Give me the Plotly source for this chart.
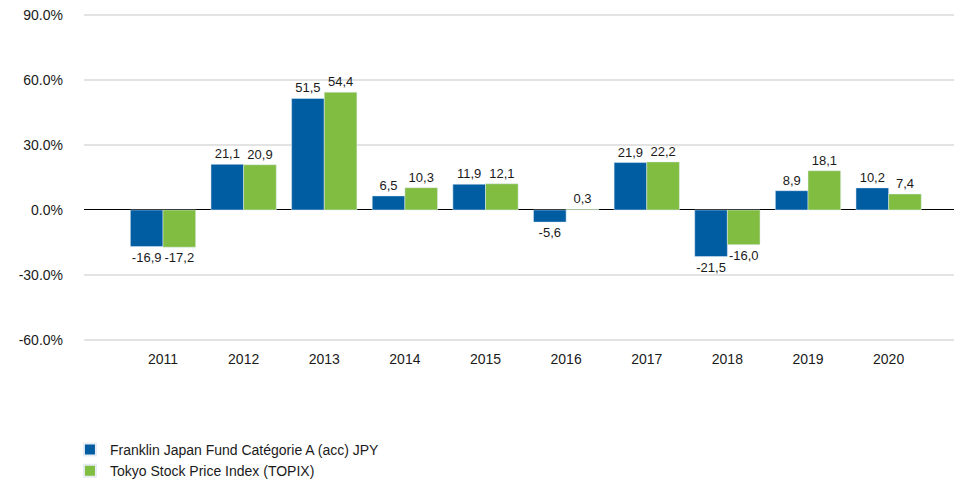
import plotly.graph_objects as go

years = ["2011", "2012", "2013", "2014", "2015", "2016", "2017", "2018", "2019", "2020"]
fund = [-16.9, 21.1, 51.5, 6.5, 11.9, -5.6, 21.9, -21.5, 8.9, 10.2]
topix = [-17.2, 20.9, 54.4, 10.3, 12.1, 0.3, 22.2, -16.0, 18.1, 7.4]
fund_name = "Franklin Japan Fund Catégorie A (acc) JPY"
topix_name = "Tokyo Stock Price Index (TOPIX)"
y_ticks = [-60, -30, 0, 30, 60, 90]
y_tick_labels = ["-60.0%", "-30.0%", "0.0%", "30.0%", "60.0%", "90.0%"]

def fmt(vals):
    return [f"{v:.1f}".replace(".", ",") for v in vals]

FONT = "Liberation Sans, Arial, sans-serif"
TXT = "#1a1a1a"

fig = go.Figure()
fig.add_trace(go.Bar(x=years, y=fund, name=fund_name, marker_color="#005DA2",
                     text=fmt(fund), textposition="outside", cliponaxis=False,
                     textfont=dict(size=13, color=TXT, family=FONT)))
fig.add_trace(go.Bar(x=years, y=topix, name=topix_name, marker_color="#80BD41",
                     text=fmt(topix), textposition="outside", cliponaxis=False,
                     textfont=dict(size=13, color=TXT, family=FONT)))

fig.update_layout(
    width=962, height=481,
    margin=dict(l=76, r=8, t=6, b=148, autoexpand=False),
    paper_bgcolor="white", plot_bgcolor="white",
    barmode="group", bargap=0.19, bargroupgap=0,
    font=dict(family=FONT, size=14, color=TXT),
    showlegend=True,
    legend=dict(x=-0.016, xanchor="left", y=-0.284, yanchor="top",
                orientation="v", font=dict(size=14, color=TXT, family=FONT),
                tracegroupgap=0, itemsizing="constant"),
    xaxis=dict(type="category", range=[-0.98, 9.91], showgrid=False, automargin=False,
               showline=False, ticks="", ticklabelstandoff=8,
               tickfont=dict(size=14, color=TXT)),
    yaxis=dict(range=[-60.5, 90.5], tickvals=y_ticks, ticktext=y_tick_labels, automargin=False,
               ticklabeloverflow="allow",
               showgrid=True, gridcolor="#e3e3e3", gridwidth=1.5,
               zeroline=True, zerolinecolor="#000000", zerolinewidth=1,
               showline=False, ticks="", ticklabelstandoff=20,
               tickfont=dict(size=14, color=TXT)),
)

fig.write_html("out.html")
